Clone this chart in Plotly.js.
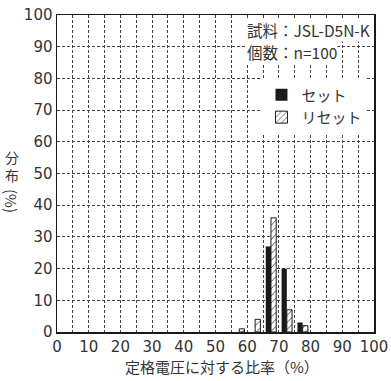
<!DOCTYPE html>
<html><head><meta charset="utf-8">
<script src="https://cdn.plot.ly/plotly-3.0.1.min.js"></script>
<style>html,body{margin:0;padding:0;background:#fff;}</style>
</head><body>
<div id="chart" style="width:391px;height:381px;"></div>
<script>
const binCenters = [57.5, 62.5, 67.5, 72.5, 77.5];
const setValues = [0, 0, 27, 20, 3];
const resetValues = [1, 4, 36, 7, 2];
const xTickVals = [0,10,20,30,40,50,60,70,80,90,100];
const yTickVals = [0,10,20,30,40,50,60,70,80,90,100];
const FONT = 'DejaVu Sans';
const CJK = 'Noto Sans CJK JP';

const traces = [
  {type:'bar', name:'セット', x:binCenters, y:setValues,
   marker:{color:'#1a1a1a', line:{color:'#1a1a1a', width:0}}},
  {type:'bar', name:'リセット', x:binCenters, y:resetValues,
   marker:{color:'#ffffff', line:{color:'#1a1a1a', width:1},
     pattern:{shape:'/', fgcolor:'#1a1a1a', bgcolor:'#ffffff', size:5, solidity:0.15}}}
];

const gridStyle = {gridcolor:'#444', griddash:'3px,2px', gridwidth:1};
const tickFont = {family:FONT, size:15, color:'#333'};
const layout = {
  width:391, height:381,
  margin:{l:57, r:17, t:15, b:49},
  paper_bgcolor:'#fff', plot_bgcolor:'#fff',
  font:{family:FONT, size:15, color:'#333'},
  barmode:'group', bargap:0.34, bargroupgap:0,
  showlegend:true,
  legend:{x:0.645, y:0.8, xanchor:'left', yanchor:'top', bgcolor:'#fff',
    font:{family:CJK, size:15, color:'#333'}, tracegroupgap:0, itemwidth:30},
  xaxis:{range:[0,100], tickvals:xTickVals, showgrid:true, ...gridStyle,
    minor:{dtick:5, tick0:0, showgrid:true, ...gridStyle},
    showline:true, linecolor:'#1a1a1a', linewidth:1.5, mirror:true, ticks:'',
    zeroline:false, tickfont:tickFont},
  yaxis:{range:[0,100], tickvals:yTickVals, showgrid:true, ...gridStyle,
    showline:true, linecolor:'#1a1a1a', linewidth:1.5, mirror:true, ticks:'',
    zeroline:false, tickfont:tickFont},
  annotations:[
    {xref:'paper', yref:'paper', x:0.597, y:0.99, xanchor:'left', yanchor:'top',
     text:'試料：JSL-D5N-K', showarrow:false, bgcolor:'#fff', borderpad:0,
     font:{family:CJK, size:15.5, color:'#333'}},
    {xref:'paper', yref:'paper', x:0.597, y:0.92, xanchor:'left', yanchor:'top',
     text:'個数：n=100', showarrow:false, bgcolor:'#fff', borderpad:0,
     font:{family:CJK, size:15.5, color:'#333'}},
    {xref:'paper', yref:'paper', x:(222-57)/317, y:-(366-332)/317, xanchor:'center', yanchor:'middle',
     text:'定格電圧に対する比率（%）', showarrow:false,
     font:{family:CJK, size:15, color:'#333'}},
    {xref:'paper', yref:'paper', x:-(57-12)/317, y:(332-166)/317, xanchor:'center', yanchor:'middle',
     text:'分<br>布', showarrow:false, font:{family:CJK, size:14, color:'#333'}},
    {xref:'paper', yref:'paper', x:-(57-12)/317, y:(332-201)/317, xanchor:'center', yanchor:'middle',
     text:'(%)', textangle:90, showarrow:false, font:{family:CJK, size:15, color:'#333'}}
  ]
};
Plotly.newPlot('chart', traces, layout, {displayModeBar:false, staticPlot:true});
</script>
</body></html>
